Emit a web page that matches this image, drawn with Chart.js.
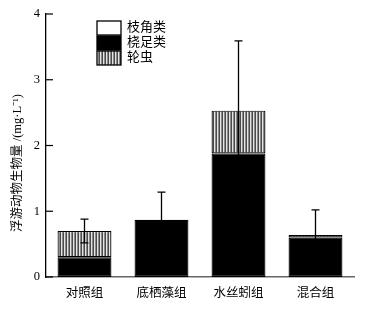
<!DOCTYPE html>
<html>
<head>
<meta charset="utf-8">
<script src="https://cdn.jsdelivr.net/npm/chart.js@4/dist/chart.umd.min.js"></script>
<style>
    html, body { margin: 0; padding: 0; background: #fff; }
    #wrap { width: 373px; height: 310px; position: relative; }
</style>
</head>
<body>
<div id="wrap"><canvas id="chart"></canvas></div>
<script>
const groups = ['对照组', '底栖藻组', '水丝蚓组', '混合组']
const cladocera = [0, 0, 0, 0]
const copepods = [0.30, 0.87, 1.88, 0.60]
const rotifers = [0.40, 0, 0.65, 0.04]
const errors = [0.18, 0.42, 1.06, 0.38]
const yTicks = [0, 1, 2, 3, 4]

const seriesNames = ['枝角类', '桡足类', '轮虫']
const yTitle = '浮游动物生物量 /(mg·L⁻¹)'
const fontFamily = "'Liberation Serif', 'Noto Sans CJK SC', serif"

const makeHatch = () => {
    const c = document.createElement('canvas')
    c.width = 3
    c.height = 4
    const ctx = c.getContext('2d')
    ctx.fillStyle = '#4a4a4a'
    ctx.fillRect(0, 0, 1, 4)
    ctx.fillStyle = '#e4e4e4'
    ctx.fillRect(1, 0, 1, 4)
    ctx.fillStyle = '#8a8a8a'
    ctx.fillRect(2, 0, 1, 4)
    return document.getElementById('chart').getContext('2d').createPattern(c, 'repeat')
}

const hatch = makeHatch()
const fills = ['#ffffff', '#000000', hatch]

const extrasPlugin = {
    id: 'extras',
    afterDatasetsDraw(chart) {
        const ctx = chart.ctx
        const x = chart.scales.x
        const y = chart.scales.y
        const totals = groups.map((g, i) => cladocera[i] + copepods[i] + rotifers[i])

        // error bars
        ctx.save()
        ctx.strokeStyle = '#000'
        ctx.lineWidth = 1.3
        totals.forEach((t, i) => {
            const cx = x.getPixelForValue(i)
            const top = y.getPixelForValue(t + errors[i])
            const bot = y.getPixelForValue(Math.max(0, t - errors[i]))
            ctx.beginPath()
            ctx.moveTo(cx, bot)
            ctx.lineTo(cx, top)
            ctx.moveTo(cx - 4, top)
            ctx.lineTo(cx + 4, top)
            ctx.moveTo(cx - 4, bot)
            ctx.lineTo(cx + 4, bot)
            ctx.stroke()
        })

        // inward ticks on y axis
        ctx.lineWidth = 1.2
        yTicks.forEach(v => {
            const py = y.getPixelForValue(v)
            ctx.beginPath()
            ctx.moveTo(y.right, py)
            ctx.lineTo(y.right + 7, py)
            ctx.stroke()
        })

        // legend
        const boxX = 97
        let boxY = 21
        ctx.font = '13px ' + fontFamily
        ctx.textBaseline = 'middle'
        ctx.textAlign = 'left'
        seriesNames.forEach((name, i) => {
            ctx.fillStyle = fills[i]
            ctx.fillRect(boxX, boxY, 24, 14)
            ctx.lineWidth = 1.3
            ctx.strokeRect(boxX, boxY, 24, 14)
            ctx.fillStyle = '#000'
            ctx.fillText(name, 127, boxY + 7)
            boxY += 15
        })

        // y title
        ctx.font = '12.5px ' + fontFamily
        ctx.translate(18, 163)
        ctx.rotate(-Math.PI / 2)
        ctx.textAlign = 'center'
        ctx.fillText(yTitle, 0, 0)
        ctx.restore()
    }
}

const ds = (label, data, color) => ({
    label,
    data,
    backgroundColor: color,
    borderColor: '#000',
    borderWidth: 1.2,
    borderSkipped: false,
    categoryPercentage: 1,
    barPercentage: 0.7
})

new Chart(document.getElementById('chart'), {
    type: 'bar',
    data: {
        labels: groups,
        datasets: [
            ds(seriesNames[1], copepods, fills[1]),
            ds(seriesNames[2], rotifers, fills[2]),
            ds(seriesNames[0], cladocera, fills[0])
        ]
    },
    options: {
        responsive: true,
        maintainAspectRatio: false,
        animation: false,
        layout: { padding: { top: 14, right: 19, left: 0, bottom: 0 } },
        plugins: {
            legend: { display: false },
            tooltip: { enabled: false }
        },
        scales: {
            x: {
                stacked: true,
                grid: { display: false, drawTicks: false },
                border: { color: '#666', width: 1.5 },
                ticks: { color: '#000', padding: 9, font: { family: fontFamily, size: 12.5 } },
                afterFit: s => { s.height = 33 }
            },
            y: {
                stacked: true,
                min: 0,
                max: 4,
                grid: { display: false, drawTicks: false },
                border: { color: '#000', width: 1.3 },
                ticks: {
                    color: '#000',
                    padding: 6,
                    font: { family: fontFamily, size: 12.5 },
                    stepSize: 1,
                    callback: v => yTicks.includes(v) ? String(v) : ''
                },
                afterFit: s => { s.width = 46 }
            }
        }
    },
    plugins: [extrasPlugin]
})
</script>
</body>
</html>
